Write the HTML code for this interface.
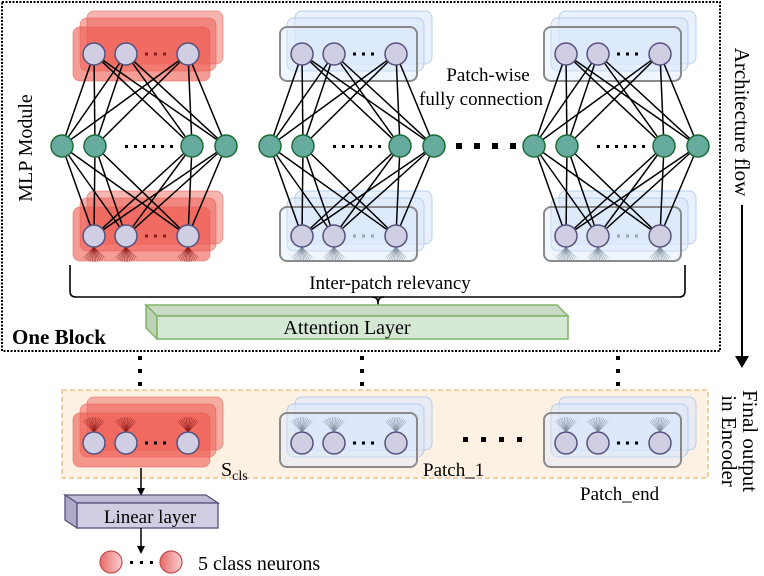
<!DOCTYPE html>
<html><head><meta charset="utf-8"><style>
html,body{margin:0;padding:0;background:#fff;}
svg{display:block;font-family:"Liberation Serif",serif;}
</style></head><body>
<svg id="s" width="764" height="576" viewBox="0 0 764 576" xmlns="http://www.w3.org/2000/svg">
<rect x="2" y="2" width="718" height="349" fill="none" stroke="#000" stroke-width="2" stroke-dasharray="2,1.5"/>
<rect x="62" y="390" width="646" height="88" fill="#fdf1e4" stroke="#e6b87d" stroke-width="1.3" stroke-dasharray="5,3"/>
<g id="g"></g>
<path d="M70,265 V291 Q70,297 76,297 H679 Q685,297 685,291 V265" fill="none" stroke="#000" stroke-width="1.6"/>
<path d="M372,297 Q378,297 378,303 V311 M384,297 Q378,297 378,303" fill="none" stroke="#000" stroke-width="1.6"/>
<text x="390" y="289" font-size="19" text-anchor="middle">Inter-patch relevancy</text>
<polygon points="146,305 557,305 568,316 157,316" fill="#c8dcc5" stroke="#82b366" stroke-width="1.5"/>
<polygon points="146,305 157,316 157,339 146,328" fill="#bcd3b8" stroke="#82b366" stroke-width="1.5"/>
<rect x="157" y="316" width="411" height="23" fill="#d5e8d4" stroke="#82b366" stroke-width="1.5"/>
<text x="347" y="334" font-size="20" text-anchor="middle">Attention Layer</text>
<text x="12" y="344" font-size="21" font-weight="bold">One Block</text>
<text transform="translate(32,148) rotate(-90)" font-size="20" text-anchor="middle">MLP Module</text>
<text x="488" y="81" font-size="19" text-anchor="middle">Patch-wise</text>
<text x="481" y="105" font-size="19" text-anchor="middle">fully connection</text>
<text transform="translate(735,122) rotate(90)" font-size="21" text-anchor="middle">Architecture flow</text>
<line x1="742" y1="205" x2="742" y2="358" stroke="#000" stroke-width="2"/>
<polygon points="735,356 749,356 742,368" fill="#000"/>
<text transform="translate(743,441) rotate(90)" font-size="21" text-anchor="middle">Final output</text>
<text transform="translate(722,441) rotate(90)" font-size="21" text-anchor="middle">in Encoder</text>
<text x="221" y="476" font-size="20">S<tspan font-size="14" dy="4">cls</tspan></text>
<text x="423" y="476" font-size="19">Patch_1</text>
<text x="580" y="500" font-size="19">Patch_end</text>
<line x1="141" y1="468" x2="141" y2="489" stroke="#000" stroke-width="1.5"/>
<polygon points="137,488 145,488 141,496" fill="#000"/>
<polygon points="65,495 206,495 218,503 77,503" fill="#bcbad4" stroke="#56517e" stroke-width="1.3"/>
<polygon points="65,495 77,503 77,528 65,520" fill="#aeabc8" stroke="#56517e" stroke-width="1.3"/>
<rect x="77" y="503" width="141" height="25" fill="#d0cee2" stroke="#56517e" stroke-width="1.3"/>
<text x="150" y="523" font-size="19" text-anchor="middle">Linear layer</text>
<line x1="141" y1="528" x2="141" y2="547" stroke="#000" stroke-width="1.5"/>
<polygon points="137,546 145,546 141,554" fill="#000"/>
<defs><linearGradient id="rg" x1="0" x2="1"><stop offset="0" stop-color="#e86a6a"/><stop offset="1" stop-color="#fbd0d0"/></linearGradient></defs>
<circle cx="111" cy="562" r="11" fill="url(#rg)" stroke="#c0504d" stroke-width="1.2"/>
<circle cx="171" cy="562" r="11" fill="url(#rg)" stroke="#c0504d" stroke-width="1.2"/>
<g fill="#000"><rect x="130" y="561" width="3" height="3"/><rect x="140" y="561" width="3" height="3"/><rect x="150" y="561" width="3" height="3"/></g>
<text x="198" y="570" font-size="20">5 class neurons</text>
</svg>
<script>
var g=document.getElementById('g'),h='';
function grp(ox,y0,red,fan,ny){
  if(red){
    h+='<rect x="'+(ox+87)+'" y="'+(y0-16)+'" width="136" height="53" rx="7" fill="#ee5a4f" fill-opacity=".45" stroke="#e05a50" stroke-opacity=".5"/>';
    h+='<rect x="'+(ox+80)+'" y="'+(y0-9)+'" width="136" height="53" rx="7" fill="#ee5a4f" fill-opacity=".5" stroke="#e05a50" stroke-opacity=".5"/>';
    h+='<rect x="'+(ox+73)+'" y="'+y0+'" width="137" height="54" rx="7" fill="#ee5a4f" fill-opacity=".6" stroke="#e05a50" stroke-opacity=".5"/>';
  } else {
    h+='<rect x="'+(ox+295)+'" y="'+(y0-16)+'" width="137" height="53" rx="7" fill="#dae8fc" fill-opacity=".6" stroke="#a9c4eb" stroke-opacity=".8"/>';
    h+='<rect x="'+(ox+287)+'" y="'+(y0-9)+'" width="137" height="53" rx="7" fill="#dae8fc" fill-opacity=".6" stroke="#a9c4eb" stroke-opacity=".8"/>';
    h+='<rect x="'+(ox+280)+'" y="'+y0+'" width="137" height="54" rx="7" fill="#dae8fc" fill-opacity=".4" stroke="#8a8a8a" stroke-width="2"/>';
  }
  var xs=red?[94,126,188]:[302,334,396];
  xs=xs.map(function(x){return x+ox;});
  if(fan){
    xs.forEach(function(x){
      var fc=red?'#8b1a1a':'#7f8a99';
      var s=fan=='up'?-1:1, y1=ny+11*s;
      for(var k=-6;k<=6;k++){
        var a=k*0.13, L=15;
        h+='<line x1="'+x+'" y1="'+y1+'" x2="'+(x+Math.sin(a)*L)+'" y2="'+(y1+s*Math.cos(a)*L)+'" stroke="'+fc+'" stroke-width=".5"/>';
      }
    });
  }
  return xs;
}
function neurons(xs,y,gray,red){
  xs.forEach(function(x){h+='<circle cx="'+x+'" cy="'+y+'" r="11" fill="#d0cee2" stroke="#56517e" stroke-width="1.5"/>';});
  var a=xs[1]+19;
  var c=gray?'#9aa':(red?'#8b1a1a':'#000');
  for(var i=0;i<3;i++)h+='<rect x="'+(a+i*9)+'" y="'+(y-1.5)+'" width="3" height="3" fill="'+c+'"/>';
}
var offs=[0,208,472];
offs.forEach(function(o,bi){
  var red=bi==0, ox=red?0:o-208;
  var topX=grp(ox,27,red,null,54);
  var botX=grp(ox,207,red,'down',236);
  var gx=[62,95,192,226].map(function(x){return x+o;});
  topX.forEach(function(t){gx.forEach(function(x){h+='<line x1="'+t+'" y1="54" x2="'+x+'" y2="146" stroke="#000" stroke-width="1.5"/>';});});
  botX.forEach(function(t){gx.forEach(function(x){h+='<line x1="'+t+'" y1="236" x2="'+x+'" y2="146" stroke="#000" stroke-width="1.5"/>';});});
  neurons(topX,54,false,red);
  neurons(botX,236,!red,red);
  gx.forEach(function(x){h+='<circle cx="'+x+'" cy="146" r="11" fill="#67ab9f" stroke="#1c6b35" stroke-width="1.5"/>';});
  for(var i=0;i<6;i++)h+='<rect x="'+(o+125+i*9)+'" y="145" width="3" height="3" fill="#000"/>';
  var bx=grp(ox,413,red,'up',443);
  neurons(bx,443,false,false);
});
for(var i=0;i<4;i++){h+='<rect x="'+(456+i*18)+'" y="143" width="6" height="6" fill="#000"/>';
 h+='<rect x="'+(463+i*18)+'" y="437" width="5" height="5" fill="#000"/>';}
[140,362,618].forEach(function(x){for(var j=0;j<3;j++)h+='<rect x="'+(x-2)+'" y="'+(356+j*13)+'" width="4" height="4" fill="#000"/>';});
g.innerHTML=h;
</script>
</body></html>
